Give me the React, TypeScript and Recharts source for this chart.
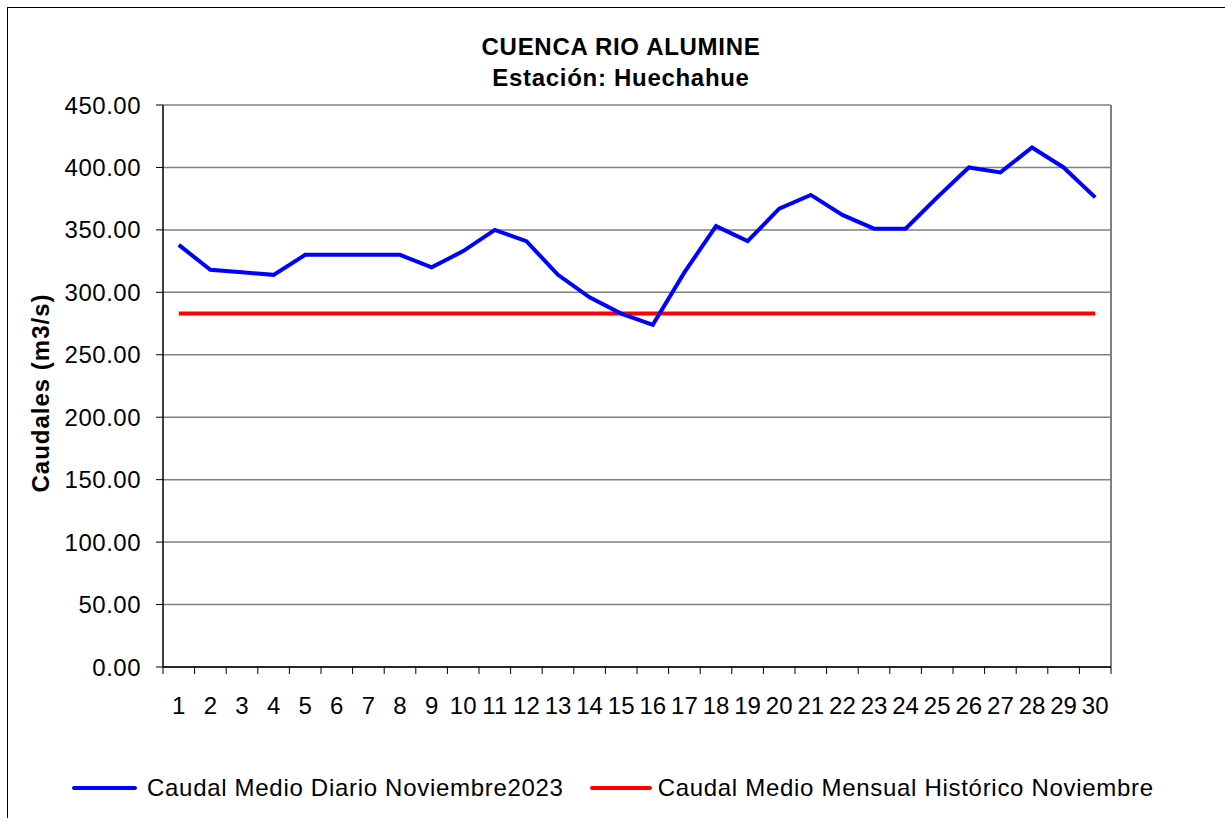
import React from "react";
import { LineChart, Line, XAxis, YAxis, CartesianGrid, ReferenceLine } from "recharts";

const dias = [1, 2, 3, 4, 5, 6, 7, 8, 9, 10, 11, 12, 13, 14, 15, 16, 17, 18, 19, 20, 21, 22, 23, 24, 25, 26, 27, 28, 29, 30];
const caudalDiario = [338, 318, 316, 314, 330, 330, 330, 330, 320, 333, 350, 341, 314, 296, 283, 274, 316, 353, 341, 367, 378, 362, 351, 351, 376, 400, 396, 416, 400, 376];
const caudalHistorico = [283, 283, 283, 283, 283, 283, 283, 283, 283, 283, 283, 283, 283, 283, 283, 283, 283, 283, 283, 283, 283, 283, 283, 283, 283, 283, 283, 283, 283, 283];
const yTicks = [0, 50, 100, 150, 200, 250, 300, 350, 400, 450];

const titulo = "CUENCA RIO ALUMINE";
const subtitulo = "Estación: Huechahue";
const ejeY = "Caudales (m3/s)";
const serieDiario = "Caudal Medio Diario Noviembre2023";
const serieHistorico = "Caudal Medio Mensual Histórico Noviembre";

const data = dias.map((d, i) => ({ dia: d, diario: caudalDiario[i], historico: caudalHistorico[i] }));

const FONT = '"Liberation Sans", Arial, sans-serif';
const W = 1217;
const H = 810;
const M = { top: 97, right: 114, bottom: 91, left: 0 };
const STEP = (W - M.right - 155) / dias.length;
const LABEL_GAP = 30;

function DayTick(props: any) {
  const { x, y, payload, index } = props;
  const top = y - LABEL_GAP;
  return (
    <g>
      <line x1={x - STEP / 2} x2={x - STEP / 2} y1={top} y2={top + 7} stroke="#000" />
      {index === dias.length - 1 && (
        <line x1={x + STEP / 2} x2={x + STEP / 2} y1={top} y2={top + 7} stroke="#000" />
      )}
      <text x={x} y={y} dy="0.71em" textAnchor="middle" fill="#000" fontSize={24} fontFamily={FONT}>
        {payload.value}
      </text>
    </g>
  );
}

export default function App() {
  return (
    <div>
      <style>{"body{margin:0;overflow:hidden;}"}</style>
      <div
        style={{
          position: "absolute",
          left: 7,
          top: 7,
          width: 1240,
          height: 830,
          border: "1px solid #000",
          background: "#fff",
          fontFamily: FONT,
        }}
      >
        <div style={{ position: "absolute", left: 0, top: 0 }}>
          <LineChart width={W} height={H} data={data} margin={M}>
            <CartesianGrid vertical={false} stroke="#808080" strokeWidth={1.5} />
            <XAxis
              dataKey="dia"
              type="number"
              domain={[0.5, 30.5]}
              ticks={dias}
              interval={0}
              height={60}
              tickSize={0}
              tickMargin={LABEL_GAP}
              tickLine={false}
              axisLine={{ stroke: "#000", strokeWidth: 1.5 }}
              tick={<DayTick />}
            />
            <YAxis
              width={155}
              domain={[0, 450]}
              ticks={yTicks}
              interval={0}
              tickFormatter={(v: number) => v.toFixed(2)}
              tickSize={7}
              tickMargin={15}
              tickLine={{ stroke: "#000" }}
              axisLine={{ stroke: "#000", strokeWidth: 1.5 }}
              tick={{ fill: "#000", fontSize: 24, fontFamily: FONT, letterSpacing: 0.5 }}
            />
            <ReferenceLine x={30.5} stroke="#808080" strokeWidth={2} />
            <Line
              type="linear"
              dataKey="historico"
              stroke="#ff0000"
              strokeWidth={4}
              dot={false}
              isAnimationActive={false}
            />
            <Line
              type="linear"
              dataKey="diario"
              stroke="#0000ff"
              strokeWidth={4}
              dot={false}
              isAnimationActive={false}
            />
          </LineChart>
        </div>

        <div
          style={{
            position: "absolute",
            left: 0,
            width: 1226,
            top: 25,
            textAlign: "center",
            fontWeight: "bold",
            fontSize: 24,
            lineHeight: "28px",
            letterSpacing: 0.7,
            color: "#000",
          }}
        >
          <div>{titulo}</div>
          <div style={{ marginTop: 3 }}>{subtitulo}</div>
        </div>

        <div
          style={{
            position: "absolute",
            left: 33,
            top: 385,
            transform: "translate(-50%, -50%) rotate(-90deg)",
            whiteSpace: "nowrap",
            fontWeight: "bold",
            fontSize: 24,
            lineHeight: "24px",
            letterSpacing: 1,
            color: "#000",
          }}
        >
          {ejeY}
        </div>

        <div style={{ position: "absolute", left: 64, top: 768, display: "flex", alignItems: "center", fontSize: 24, lineHeight: "24px", letterSpacing: 0.7, color: "#000", whiteSpace: "nowrap" }}>
          <div style={{ width: 65, height: 4, borderRadius: 2, background: "#0000ff", marginRight: 10 }} />
          <div>{serieDiario}</div>
          <div style={{ width: 62, height: 4, borderRadius: 2, background: "#ff0000", marginLeft: 26, marginRight: 6 }} />
          <div>{serieHistorico}</div>
        </div>
      </div>
    </div>
  );
}
